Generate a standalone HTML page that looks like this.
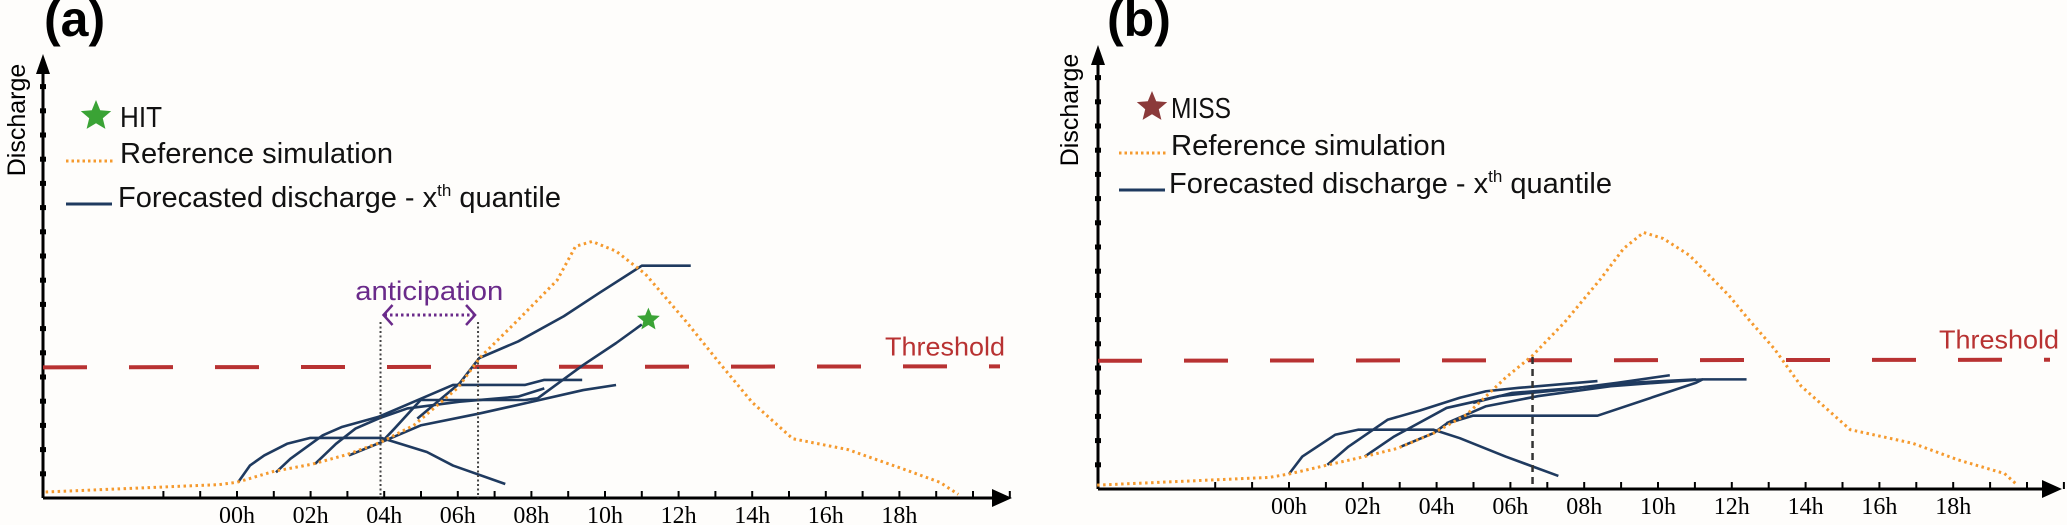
<!DOCTYPE html>
<html><head><meta charset="utf-8"><style>
html,body{margin:0;padding:0;background:#fefdfb;}
svg{display:block;font-family:"Liberation Sans",sans-serif;}
</style></head><body>
<svg id="fig" width="2067" height="525" viewBox="0 0 2067 525"></svg>
<script>
// ---- data ----
const hourTicks = ["00h","02h","04h","06h","08h","10h","12h","14h","16h","18h"];
const tickHours = [0,2,4,6,8,10,12,14,16,18];
const thresholdA = 5.4;
const thresholdB = 5.3;
const refHoursA = [-5.2,-0.5,0,1,2.05,3,3.9,4.8,6,6.6,7.6,8.7,9.2,9.65,10.3,11.1,12.2,13.1,14,15.1,16.6,18.1,19.1,19.6];
const refValsA  = [0.25,0.55,0.65,1.1,1.4,1.8,2.3,3.0,4.55,5.8,7.3,9.0,10.4,10.6,10.2,9.25,7.3,5.6,3.95,2.45,2.0,1.2,0.65,0.15];
const refHoursB = [-5.2,-0.53,0,1.07,2.05,2.94,3.92,4.81,5.87,6.59,7.47,8.45,9.07,9.61,10.14,10.85,11.92,12.45,13.16,13.88,15.21,16.9,18.14,19.39,19.74];
const refValsB  = [0.16,0.48,0.62,1.0,1.34,1.68,2.31,3.07,4.6,5.5,6.89,8.69,9.94,10.6,10.35,9.66,8.0,7.02,5.78,4.25,2.45,1.89,1.2,0.64,0.16];
const fcA1h=[0.03,0.35,0.74,1.36,1.98,3.93,5.16,5.87,7.29], fcA1v=[0.65,1.34,1.76,2.24,2.48,2.48,1.9,1.34,0.58];
const fcA2h=[1.06,1.45,2.33,2.86,3.84,4.99,5.87,7.82,8.35,9.38], fcA2v=[1.06,1.62,2.59,2.94,3.35,4.1,4.67,4.67,4.88,4.88];
const fcA3h=[2.12,2.69,3.22,3.84,4.63,6.05,7.64,8.35], fcA3v=[1.41,2.24,2.87,3.28,3.7,3.98,4.19,4.53];
const fcA4h=[3.04,3.93,4.28,4.99,7.82,8.17,9.41,10.3,11.0], fcA4v=[1.76,2.31,2.87,4.05,4.05,4.12,5.5,6.4,7.17];
const fcA5h=[3.93,4.99,6.58,7.82,9.41,10.3], fcA5v=[2.31,3.0,3.49,3.91,4.46,4.67];
const fcA6h=[4.9,6.05,6.58,7.64,8.88,9.85,11.0,12.33], fcA6v=[3.28,4.74,5.78,6.47,7.51,8.48,9.6,9.6];
const fcB1h=[0,0.36,1.25,1.87,3.92,4.63,5.87,7.3], fcB1v=[0.62,1.34,2.24,2.45,2.45,2.1,1.34,0.54];
const fcB2h=[1.04,1.61,2.67,3.56,4.63,5.34,6.23,8.36], fcB2v=[1.0,1.75,2.86,3.25,3.77,4.04,4.18,4.46];
const fcB3h=[2.05,2.85,4.27,5.7,7.47,8.9,10.32], fcB3v=[1.34,2.17,3.35,3.84,4.11,4.39,4.7];
const fcB4h=[3.03,3.92,4.27,4.99,8.36,11.03,11.21,12.4], fcB4v=[1.75,2.31,2.7,3.03,3.03,4.39,4.53,4.53];
const fcB5h=[4.27,5.34,6.76,8.72,11.21], fcB5v=[2.72,3.42,3.84,4.25,4.53];
const fcB6h=[4.99,6.05,7.83,9.25,11.03], fcB6v=[3.56,3.97,4.18,4.39,4.53];
const hitStar = [11.18, 7.37];
const anticipation = [3.9, 6.55];
const missLine = 6.6;

const NS="http://www.w3.org/2000/svg";
const svg=document.getElementById('fig');
function mk(tag,attrs,parent,text){const e=document.createElementNS(NS,tag);for(const k in attrs)e.setAttribute(k,attrs[k]);if(text!==undefined)e.textContent=text;(parent||svg).appendChild(e);return e;}
function starPts(cx,cy,R){let p=[];for(let i=0;i<10;i++){const r=i%2?R*0.45:R;const a=-Math.PI/2+i*Math.PI/5;p.push((cx+r*Math.cos(a)).toFixed(1)+','+(cy+r*Math.sin(a)).toFixed(1));}return p.join(' ');}

function panel(cfg){
  const g=mk('g',{});
  
  
  const X=h=>cfg.x0+cfg.kx*h, Y=v=>cfg.y0-24.2*v;
  const pl=mk('text',{x:cfg.labX,y:36,'font-size':50,'font-weight':'bold',fill:'#000'},g,cfg.label);
  
  
  const yt=mk('text',{x:0,y:0,'font-size':25,fill:'#000','text-anchor':'middle',transform:`translate(${cfg.ytx},${cfg.yty}) rotate(-90)`},g,'Discharge');
  
  
  const ax=mk('g',{},g);
  
  
  mk('line',{x1:cfg.ax,y1:cfg.y0,x2:cfg.ax,y2:cfg.ytop+10,stroke:'#000','stroke-width':3},ax);
  mk('polygon',{points:`${cfg.ax-7},${cfg.ytop+16} ${cfg.ax},${cfg.ytop-4} ${cfg.ax+7},${cfg.ytop+16}`,fill:'#000'},ax);
  mk('line',{x1:cfg.ax,y1:cfg.y0,x2:cfg.xend-10,y2:cfg.y0,stroke:'#000','stroke-width':3},ax);
  mk('polygon',{points:`${cfg.xend-20},${cfg.y0-9} ${cfg.xend},${cfg.y0} ${cfg.xend-20},${cfg.y0+9}`,fill:'#000'},ax);
  for(let v=1;v<=17;v++){const y=Y(v);if(y<cfg.ytop+20)break;mk('rect',{x:cfg.ax-3,y:y-2.5,width:6,height:5,fill:'#000'},ax);}
  for(let h=-2;h<=21;h++){mk('line',{x1:X(h),y1:cfg.y0-7,x2:X(h),y2:cfg.y0,stroke:'#000','stroke-width':2},ax);}
  tickHours.forEach((h,i)=>{const t=mk('text',{x:X(h),y:cfg.y0+25,'font-size':24,'font-family':'Liberation Serif, serif','text-anchor':'middle',fill:'#000'},ax,hourTicks[i]);
    
    });
  const th=mk('line',{x1:cfg.ax,y1:Y(cfg.thr),x2:cfg.thEnd,y2:Y(cfg.thr)-1,stroke:'#b83232','stroke-width':4,'stroke-dasharray':'44 42'},g);
  
  
  const tt=mk('text',{x:cfg.thTx,y:Y(cfg.thr)-12,'font-size':26,fill:'#b83232',textLength:120,lengthAdjust:'spacingAndGlyphs'},g,'Threshold');
  
  
  cfg.fc.forEach((f,i)=>{const p=mk('polyline',{points:f[0].map((h,j)=>X(h)+','+Y(f[1][j])).join(' '),fill:'none',stroke:'#1f3a5f','stroke-width':2.6,'stroke-linejoin':'round'},g);
    
    });
  const r=mk('polyline',{points:cfg.rh.map((h,j)=>X(h)+','+Y(cfg.rv[j])).join(' '),fill:'none',stroke:'#f59a2e','stroke-width':3,'stroke-dasharray':'2.5 3.5'},g);
  
  
  const lg=mk('g',{},g);
  
  
  mk('polygon',{points:starPts(cfg.lgStarX,cfg.lgStarY,16),fill:cfg.starCol},lg);
  mk('text',{x:cfg.lgTx,y:cfg.lgStarY+11,'font-size':29,fill:'#111',textLength:cfg.lab1W,lengthAdjust:'spacingAndGlyphs'},lg,cfg.lab1);
  mk('line',{x1:cfg.lgLx,y1:cfg.lgY2+8,x2:cfg.lgLx+48,y2:cfg.lgY2+8,stroke:'#f59a2e','stroke-width':3,'stroke-dasharray':'2.5 3'},lg);
  mk('text',{x:cfg.lgTx,y:cfg.lgY2+10,'font-size':29,fill:'#111',textLength:cfg.refW,lengthAdjust:'spacingAndGlyphs'},lg,'Reference simulation');
  mk('line',{x1:cfg.lgLx,y1:cfg.lgY3+7,x2:cfg.lgLx+46,y2:cfg.lgY3+7,stroke:'#1f3a5f','stroke-width':3},lg);
  const ft=mk('text',{x:cfg.lgTx-2,y:cfg.lgY3+10,'font-size':29,fill:'#111'},lg);
  mk('tspan',{},ft,'Forecasted discharge - x');
  mk('tspan',{dy:-11,'font-size':17},ft,'th');
  mk('tspan',{dy:11},ft,' quantile');
  ft.setAttribute('transform',`translate(${cfg.lgTx-2},0) scale(${cfg.fcScale},1) translate(${-(cfg.lgTx-2)},0)`);
  return {g,X,Y};
}

const A=panel({name:'panel-a',label:'(a)',labX:44,ax:43,x0:237,kx:36.8,y0:498,ytop:58,xend:1012,ytx:25,yty:120,
  thr:thresholdA,thEnd:1000,thTx:885,rh:refHoursA,rv:refValsA,
  fc:[[fcA1h,fcA1v],[fcA2h,fcA2v],[fcA3h,fcA3v],[fcA4h,fcA4v],[fcA5h,fcA5v],[fcA6h,fcA6v]],
  lgStarX:96,lgStarY:116,starCol:'#3aa335',lgTx:120,lab1:'HIT',lab1W:42,lgLx:66,lgY2:153,refW:273,lgY3:197,fcScale:1.0});
const st=mk('polygon',{points:starPts(A.X(hitStar[0]),A.Y(hitStar[1]),12),fill:'#3aa335'},A.g);


const ag=mk('g',{},A.g);


const ax1=A.X(anticipation[0]), ax2=A.X(anticipation[1]);
mk('line',{x1:ax1,y1:322,x2:ax1,y2:498,stroke:'#444','stroke-width':2,'stroke-dasharray':'2 2.5'},ag);
mk('line',{x1:ax2,y1:322,x2:ax2,y2:498,stroke:'#444','stroke-width':2,'stroke-dasharray':'2 2.5'},ag);
mk('line',{x1:ax1+4,y1:315,x2:ax2-4,y2:315,stroke:'#6a2a8a','stroke-width':3,'stroke-dasharray':'2.5 3'},ag);
mk('polyline',{points:`${ax1+12},305 ${ax1+3},315 ${ax1+12},325`,fill:'none',stroke:'#6a2a8a','stroke-width':2.5},ag);
mk('polyline',{points:`${ax2-12},305 ${ax2-3},315 ${ax2-12},325`,fill:'none',stroke:'#6a2a8a','stroke-width':2.5},ag);
mk('text',{x:(ax1+ax2)/2,y:300,'font-size':27,fill:'#6a2a8a','text-anchor':'middle',textLength:148,lengthAdjust:'spacingAndGlyphs'},ag,'anticipation');

const B=panel({name:'panel-b',label:'(b)',labX:1107,ax:1098,x0:1289,kx:36.9,y0:489,ytop:49,xend:2062,ytx:1078,yty:110,
  thr:thresholdB,thEnd:2050,thTx:1939,rh:refHoursB,rv:refValsB,
  fc:[[fcB1h,fcB1v],[fcB2h,fcB2v],[fcB3h,fcB3v],[fcB4h,fcB4v],[fcB5h,fcB5v],[fcB6h,fcB6v]],
  lgStarX:1152,lgStarY:107,starCol:'#8b3a3a',lgTx:1171,lab1:'MISS',lab1W:60,lgLx:1119,lgY2:145,refW:275,lgY3:183,fcScale:1.0});
const ml=mk('line',{x1:B.X(missLine),y1:357,x2:B.X(missLine),y2:489,stroke:'#333','stroke-width':2.5,'stroke-dasharray':'7 5'},B.g);


</script>
</body></html>
